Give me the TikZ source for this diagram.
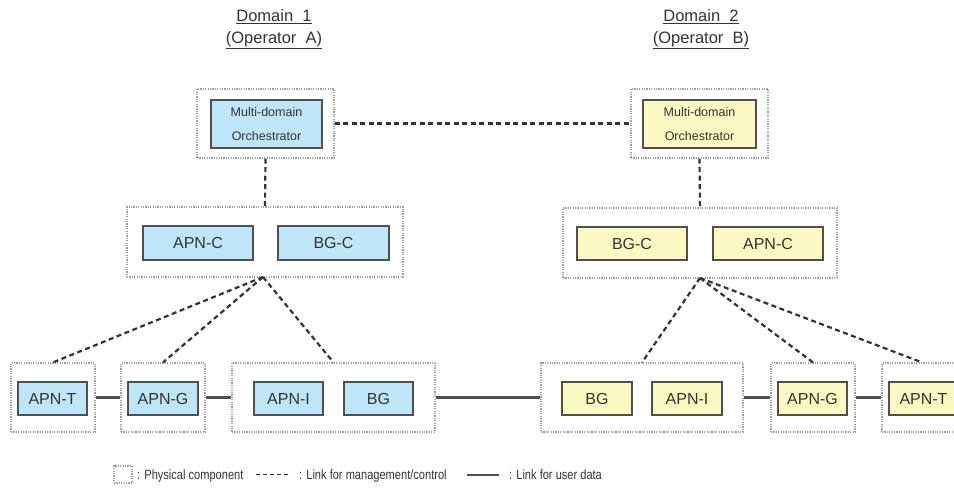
\documentclass[tikz,border=0pt]{standalone}
\usepackage{fontspec}
\setmainfont{Liberation Sans}
\newfontfamily\legendfont[FakeStretch=0.82]{Liberation Sans}
\definecolor{opblue}{HTML}{BFE5F8}
\definecolor{opyellow}{HTML}{FBF9C2}
\definecolor{edge}{HTML}{505050}
\definecolor{ink}{HTML}{333333}
\definecolor{dotgray}{HTML}{A0A0A0}
\tikzset{
  phys/.style={draw=dotgray, line width=1.2pt, dash pattern=on 1.2pt off 1.2pt,
    rectangle, inner sep=0pt, fill=white},
  func/.style={draw=edge, line width=1.7pt, rectangle, inner sep=0pt,
    text=ink, font=\fontsize{16}{19}\selectfont},
  blue/.style={func, fill=opblue},
  yellow/.style={func, fill=opyellow},
  orch/.style={font=\fontsize{12.5}{24}\selectfont, align=center},
  mgmt/.style={draw=ink, line width=2.2pt, dash pattern=on 5pt off 3.5pt},
  udata/.style={draw=edge, line width=2.4pt},
  title/.style={text=ink, font=\fontsize{16.5}{22}\selectfont, align=center},
  legend/.style={text=ink, font=\legendfont\fontsize{13.5}{16}\selectfont, anchor=base west, inner sep=0pt}
}
\begin{document}
\begin{tikzpicture}[x=1pt, y=-1pt]
\useasboundingbox (0,0) rectangle (954,492);

% domain titles
\node[title] (titleA) at (274,29) {\underline{Domain\ \ 1}\\\underline{(Operator\ \ A)}};
\node[title] (titleB) at (701,29) {\underline{Domain\ \ 2}\\\underline{(Operator\ \ B)}};

% orchestrators
\node[phys, minimum width=137pt, minimum height=69pt] (orchA) at (265.5,123.5) {};
\node[blue, orch, minimum width=111pt, minimum height=48pt] (orchAin) at (266.5,124) {Multi-domain\\Orchestrator};
\node[phys, minimum width=137pt, minimum height=69pt] (orchB) at (699.5,123.5) {};
\node[yellow, orch, minimum width=113pt, minimum height=48pt] (orchBin) at (699.5,124) {Multi-domain\\Orchestrator};

% control-plane components
\node[phys, minimum width=276pt, minimum height=70pt] (ctrlA) at (265,242) {};
\node[blue, minimum width=110pt, minimum height=34pt] (apncA) at (198,243) {APN-C};
\node[blue, minimum width=111pt, minimum height=34pt] (bgcA) at (333.5,243) {BG-C};
\node[phys, minimum width=274pt, minimum height=70pt] (ctrlB) at (700,243) {};
\node[yellow, minimum width=110pt, minimum height=33pt] (bgcB) at (632,243.5) {BG-C};
\node[yellow, minimum width=110pt, minimum height=33pt] (apncB) at (768,243.5) {APN-C};

% user-plane components, domain 1
\node[phys, minimum width=84pt, minimum height=69pt] (tA) at (53,397.5) {};
\node[blue, minimum width=69pt, minimum height=33pt] (apntA) at (52.5,398.5) {APN-T};
\node[phys, minimum width=84pt, minimum height=69pt] (gA) at (163,397.5) {};
\node[blue, minimum width=70pt, minimum height=33pt] (apngA) at (163,398.5) {APN-G};
\node[phys, minimum width=203pt, minimum height=69pt] (iA) at (333.5,397.5) {};
\node[blue, minimum width=69pt, minimum height=33pt] (apniA) at (288.5,398.5) {APN-I};
\node[blue, minimum width=69pt, minimum height=33pt] (bgA) at (378.5,398.5) {BG};

% user-plane components, domain 2
\node[phys, minimum width=202pt, minimum height=69pt] (iB) at (642,397.5) {};
\node[yellow, minimum width=70pt, minimum height=33pt] (bgB) at (597,398.5) {BG};
\node[yellow, minimum width=70pt, minimum height=33pt] (apniB) at (687,398.5) {APN-I};
\node[phys, minimum width=84pt, minimum height=69pt] (gB) at (813,397.5) {};
\node[yellow, minimum width=69pt, minimum height=33pt] (apngB) at (812.5,398.5) {APN-G};
\node[phys, minimum width=84pt, minimum height=69pt] (tB) at (924,397.5) {};
\node[yellow, minimum width=69pt, minimum height=33pt] (apntB) at (923.5,398.5) {APN-T};

% management / control links
\draw[mgmt] (orchA.east) -- (orchB.west);
\draw[mgmt] (orchA.south) -- (ctrlA.north);
\draw[mgmt] (orchB.south) -- (ctrlB.north);
\coordinate (apexA) at (263,277);
\coordinate (apexB) at (700,278);
\draw[mgmt] (apexA) -- (tA.north);
\draw[mgmt] (apexA) -- (gA.north);
\draw[mgmt] (apexA) -- (iA.north);
\draw[mgmt] (apexB) -- (iB.north);
\draw[mgmt] (apexB) -- (gB.north);
\draw[mgmt] (apexB) -- ([xshift=-2pt]tB.north);

% user data links
\draw[udata] (tA.east) -- (gA.west);
\draw[udata] (gA.east) -- (iA.west);
\draw[udata] (iA.east) -- (iB.west);
\draw[udata] (iB.east) -- (gB.west);
\draw[udata] (gB.east) -- (tB.west);

% legend
\node[phys, minimum width=18pt, minimum height=17pt] (keybox) at (123,474.5) {};
\node[legend] (keyphys) at (137,479.5) {: Physical component};
\coordinate (dashL) at (256,474.5);
\coordinate (dashR) at (290,474.5);
\draw[mgmt, line width=1.8pt, dash pattern=on 4pt off 3pt] (dashL) -- (dashR);
\node[legend] (keymgmt) at (299,479.5) {: Link for management/control};
\coordinate (solidL) at (467,474.5);
\coordinate (solidR) at (499,474.5);
\draw[udata, line width=2pt] (solidL) -- (solidR);
\node[legend] (keydata) at (509,479.5) {: Link for user data};
\end{tikzpicture}
\end{document}
